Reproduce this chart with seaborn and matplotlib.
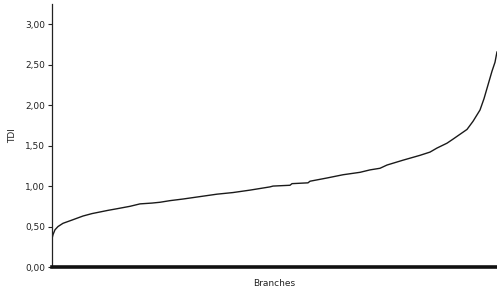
import matplotlib
matplotlib.use("Agg")
import matplotlib.pyplot as plt
import seaborn as sns
import pandas as pd
from matplotlib.ticker import FuncFormatter

branch_rank = [0, 1, 3, 6, 11, 20, 31, 40, 48, 56, 65, 78, 88, 100, 108, 118, 131, 148,
               165, 181, 198, 208, 218, 221, 238, 240, 256, 258, 275, 291, 308, 318, 328,
               335, 351, 368, 378, 385, 395, 401, 408, 415, 421, 428, 432, 436, 440, 443, 445]
tdi = [0.35, 0.40, 0.46, 0.50, 0.54, 0.58, 0.63, 0.66, 0.68, 0.70, 0.72, 0.75, 0.78, 0.79,
       0.80, 0.82, 0.84, 0.87, 0.90, 0.92, 0.95, 0.97, 0.99, 1.00, 1.01, 1.03, 1.04, 1.06,
       1.10, 1.14, 1.17, 1.20, 1.22, 1.26, 1.32, 1.38, 1.42, 1.47, 1.53, 1.58, 1.64, 1.70,
       1.80, 1.94, 2.08, 2.25, 2.42, 2.53, 2.66]
y_ticks = [0.0, 0.5, 1.0, 1.5, 2.0, 2.5, 3.0]

df = pd.DataFrame({"rank": branch_rank, "TDI": tdi})

sns.set_style("white")
plt.rcParams["font.family"] = ["DejaVu Sans"]

fig = plt.figure(figsize=(4.97, 2.92), dpi=100)
ax = fig.add_axes([52/497, 25/292, 1 - 52/497, 263/292])

sns.lineplot(data=df, x="rank", y="TDI", ax=ax, color="#1a1a1a", linewidth=1.0)

ax.set_xlim(0, 445)
ax.set_ylim(0, 3.25)
ax.set_yticks(y_ticks)
ax.yaxis.set_major_formatter(FuncFormatter(lambda v, p: f"{v:.2f}".replace(".", ",")))
ax.set_xticks([])
ax.tick_params(axis="y", direction="out", length=3, width=0.8, labelsize=6.5,
               colors="#222222", left=True, pad=2)
for s in ["top", "right"]:
    ax.spines[s].set_visible(False)
ax.spines["left"].set_linewidth(0.9)
ax.spines["left"].set_color("#222222")
ax.spines["bottom"].set_linewidth(2.6)
ax.spines["bottom"].set_color("#111111")

ax.set_xlabel("Branches", fontsize=6.5, color="#222222", labelpad=9)
ax.set_ylabel("TDI", fontsize=6.5, color="#222222", labelpad=6)

fig.savefig("out.png", dpi=100)
